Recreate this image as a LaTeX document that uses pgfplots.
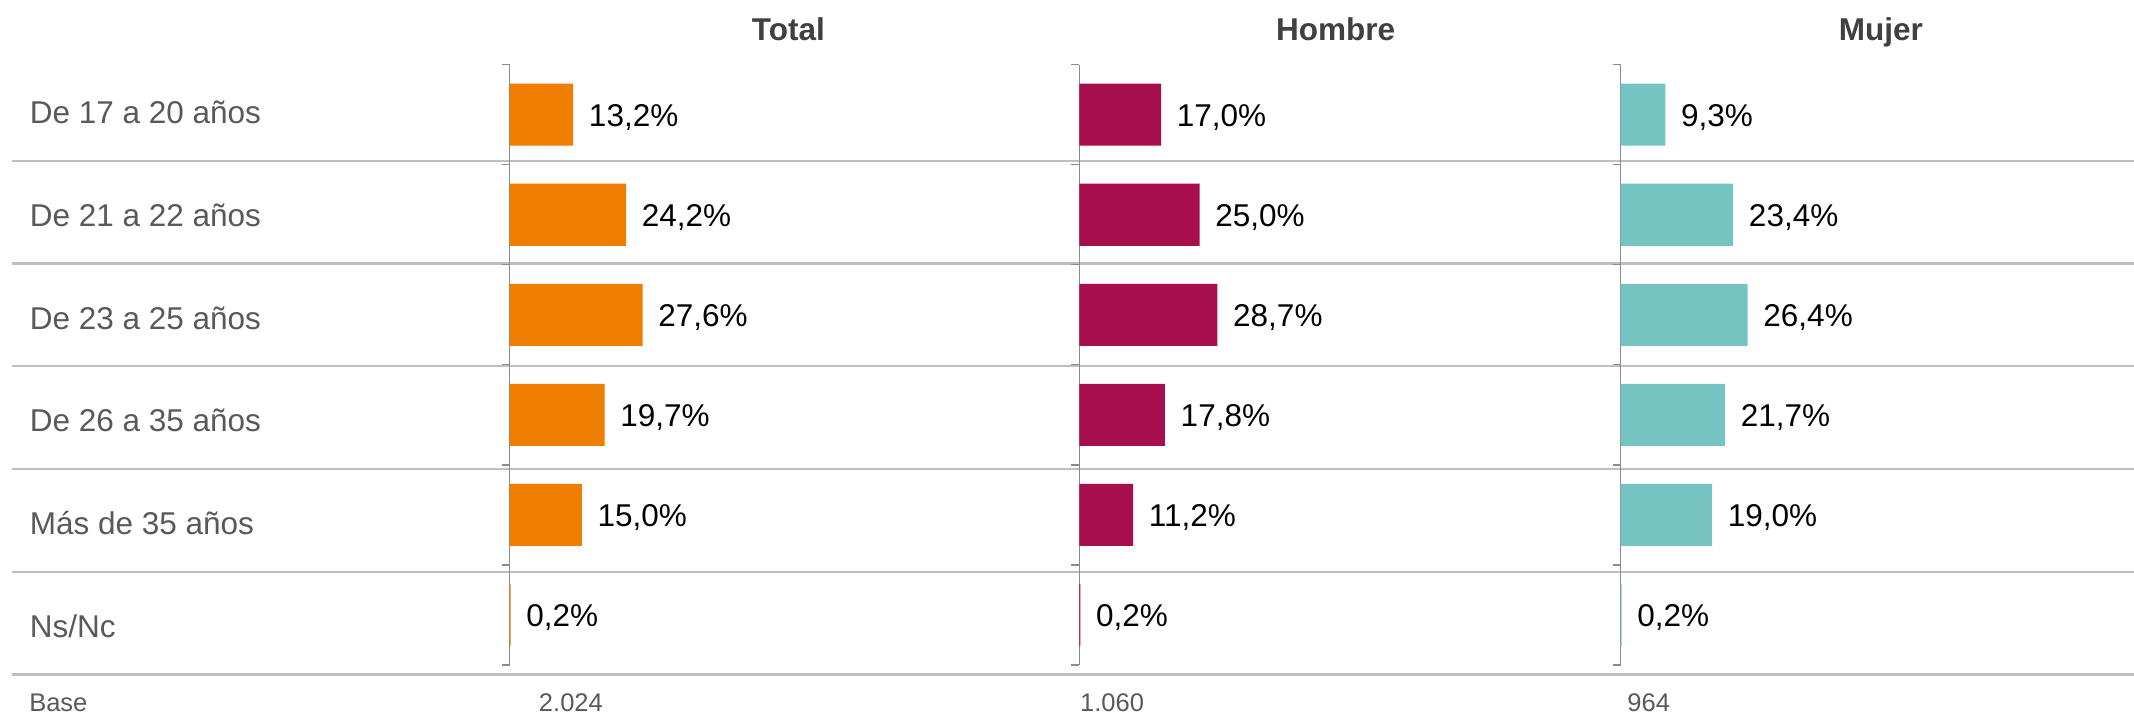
\documentclass[border=0pt]{standalone}
\usepackage{pgfplots}
\pgfplotsset{compat=1.18}
\usepackage{fontspec}
\setmainfont{Liberation Sans}
\definecolor{cTot}{HTML}{EF7D00}
\definecolor{cHom}{HTML}{A70E4E}
\definecolor{cMuj}{HTML}{76C4C1}
\definecolor{sepc}{HTML}{BFBFBF}
\definecolor{axg}{HTML}{8C8C8C}
\definecolor{lab}{HTML}{595959}
\definecolor{tit}{HTML}{404040}
\def\U{0.0093721cm}
\pgfplotsset{
  panel/.style={
    scale only axis, width=4.5080cm, height=5.6233cm,
    xmin=0, xmax=100, ymin=-0.5, ymax=5.5, y dir=reverse,
    axis x line=none, axis y line=left,
    y axis line style={-, draw=axg, line width=0.35pt},
    ytick={-0.5,0.5,1.5,2.5,3.5,4.5,5.5}, yticklabels={},
    tick align=outside, major tick length=0.075cm,
    every tick/.style={draw=axg, line width=0.35pt},
    clip=false, anchor=north west,
  },
  bars/.style={xbar, draw=none, fill=#1, bar width=0.62, point meta=x,
    nodes near coords={\pgfmathprintnumber[fixed,fixed zerofill,precision=1,use comma,assume math mode=true]{\pgfplotspointmeta}\%},
    nodes near coords style={font=\fontsize{8.4}{10}\selectfont, text=black, anchor=west, inner sep=0pt, xshift=0.1406cm, yshift=-0.025cm}},
}
\tikzset{
  lbl/.style={font=\fontsize{8.4}{10}\selectfont, text=lab, anchor=base west, inner sep=0pt},
  ttl/.style={font=\fontsize{8.4}{10}\selectfont\bfseries, text=tit, anchor=base, inner sep=0pt},
  bse/.style={font=\fontsize{6.8}{8}\selectfont, text=lab, anchor=base west, inner sep=0pt},
}
\begin{document}
\begin{tikzpicture}
% background: separators, row labels, titles, base row
\begin{axis}[name=bg, at={(0,0)}, anchor=north west, scale only axis,
  width=20cm, height=6.6823cm, xmin=0, xmax=2134, ymin=0, ymax=713,
  y dir=reverse, hide axis, clip=false]
  \foreach \yy in {160.6,263.3,366.0,468.7,571.4,674.1}{
    \edef\tmp{\noexpand\draw[sepc, line width=0.6pt] (axis cs:12,\yy) -- (axis cs:2134,\yy);}\tmp
  }
  \node[lbl] at (axis cs:29,123.6) {De 17 a 20 años};
  \node[lbl] at (axis cs:29,226.3) {De 21 a 22 años};
  \node[lbl] at (axis cs:29,329.0) {De 23 a 25 años};
  \node[lbl] at (axis cs:29,431.7) {De 26 a 35 años};
  \node[lbl] at (axis cs:29,534.4) {Más de 35 años};
  \node[lbl] at (axis cs:29,637.1) {Ns/Nc};
  \node[ttl] at (axis cs:788,40) {Total};
  \node[ttl] at (axis cs:1335,40) {Hombre};
  \node[ttl] at (axis cs:1880,40) {Mujer};
  \node[bse] at (axis cs:28.5,711) {Base};
  \node[bse] at (axis cs:538,711) {2.024};
  \node[bse] at (axis cs:1079,711) {1.060};
  \node[bse] at (axis cs:1626,711) {964};
\end{axis}
% Total
\begin{axis}[panel, at={({509.7*\U},{-64.7*\U})}]
  \addplot[bars=cTot] coordinates {(13.2,0) (24.2,1) (27.6,2) (19.7,3) (15.0,4) (0.2,5)};
\end{axis}
% Hombre
\begin{axis}[panel, at={({1079.3*\U},{-64.7*\U})}]
  \addplot[bars=cHom] coordinates {(17.0,0) (25.0,1) (28.7,2) (17.8,3) (11.2,4) (0.2,5)};
\end{axis}
% Mujer
\begin{axis}[panel, at={({1620.6*\U},{-64.7*\U})}]
  \addplot[bars=cMuj] coordinates {(9.3,0) (23.4,1) (26.4,2) (21.7,3) (19.0,4) (0.2,5)};
\end{axis}
\pgfresetboundingbox
\path (0,0) rectangle ({2134*\U},{-713*\U});
\end{tikzpicture}
\end{document}
